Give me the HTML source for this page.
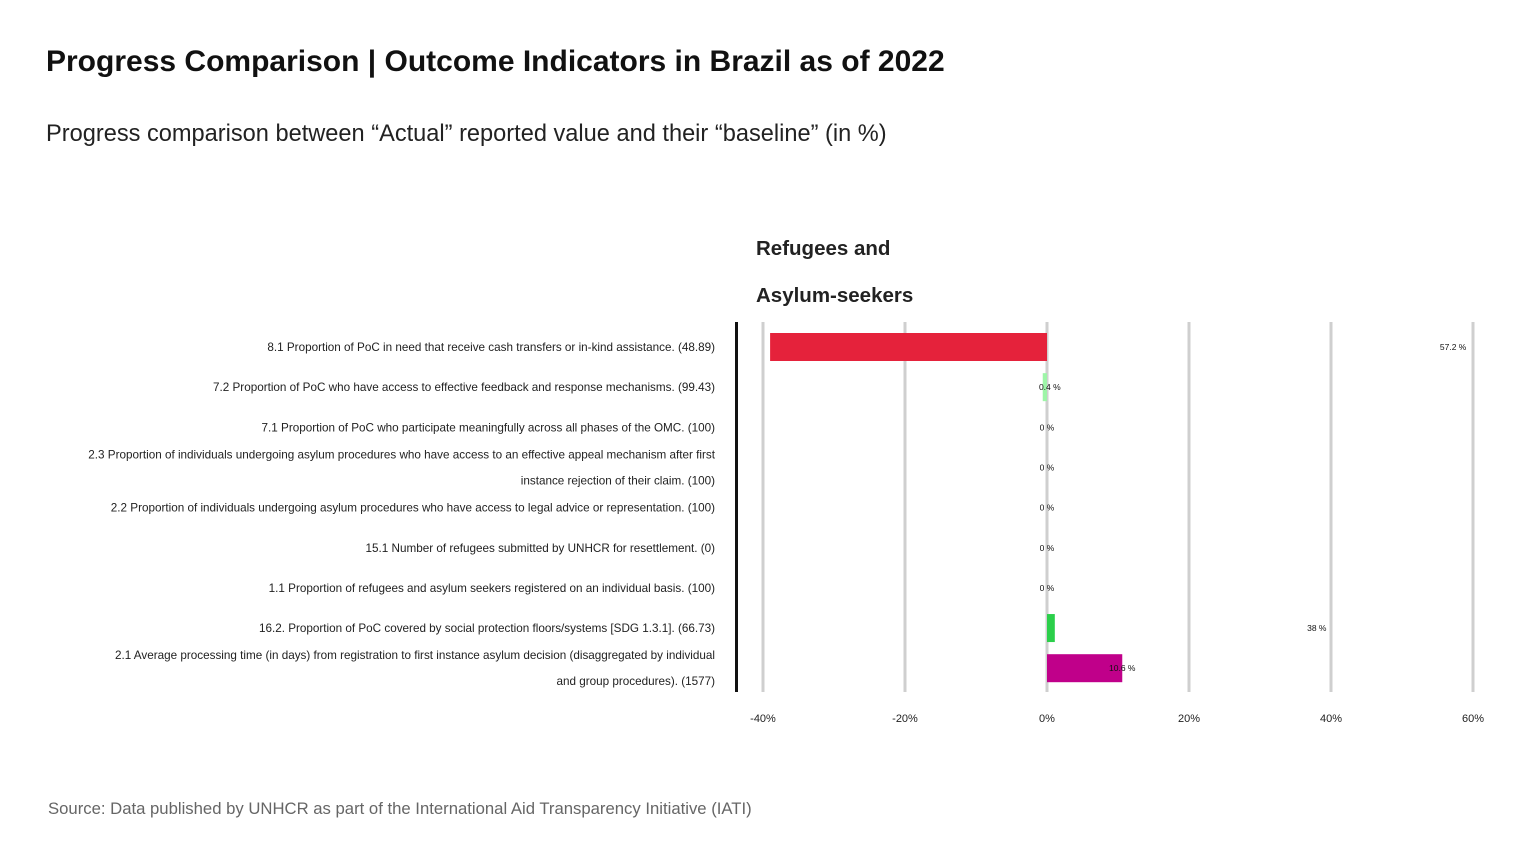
<!DOCTYPE html>
<html><head><meta charset="utf-8"><style>
body{margin:0;background:#fff;font-family:"Liberation Sans",sans-serif;}
svg{display:block}
</style></head><body>
<svg width="1536" height="865">
<text x="46" y="71" font-size="30" font-weight="bold" fill="#111">Progress Comparison | Outcome Indicators in Brazil as of 2022</text>
<text x="46" y="141" font-size="23.6" fill="#222">Progress comparison between “Actual” reported value and their “baseline” (in %)</text>
<text x="756" y="255" font-size="20.5" font-weight="bold" fill="#222">Refugees and</text>
<text x="756" y="302" font-size="20.5" font-weight="bold" fill="#222">Asylum-seekers</text>
<g id="grid"></g><g id="bars"></g><g id="labels"></g><g id="vals"></g><g id="ticks"></g>
<rect x="735" y="322" width="3" height="370" fill="#111"/>
<text x="48" y="814" font-size="16.7" fill="#666">Source: Data published by UNHCR as part of the International Aid Transparency Initiative (IATI)</text>
</svg>
<script>
const categories=[
["8.1 Proportion of PoC in need that receive cash transfers or in-kind assistance. (48.89)"],
["7.2 Proportion of PoC who have access to effective feedback and response mechanisms. (99.43)"],
["7.1 Proportion of PoC who participate meaningfully across all phases of the OMC. (100)"],
["2.3 Proportion of individuals undergoing asylum procedures who have access to an effective appeal mechanism after first","instance rejection of their claim. (100)"],
["2.2 Proportion of individuals undergoing asylum procedures who have access to legal advice or representation. (100)"],
["15.1 Number of refugees submitted by UNHCR for resettlement. (0)"],
["1.1 Proportion of refugees and asylum seekers registered on an individual basis. (100)"],
["16.2. Proportion of PoC covered by social protection floors/systems [SDG 1.3.1]. (66.73)"],
["2.1 Average processing time (in days) from registration to first instance asylum decision (disaggregated by individual","and group procedures). (1577)"]];
const barValues=[-39,-0.6,0,0,0,0,0,1.1,10.6];
const labelValues=[57.2,0.4,0,0,0,0,0,38,10.6];
const barColors=["#e5223b","#9ef5a8","#ccc","#ccc","#ccc","#ccc","#ccc","#2bcf4a","#c0008a"];
const tickValues=[-40,-20,0,20,40,60];
const NS="http://www.w3.org/2000/svg";
const x=v=>1047+v*7.1;
const y=i=>347+i*40.15;
function mk(p,t,a){const e=document.createElementNS(NS,t);for(const k in a)e.setAttribute(k,a[k]);document.getElementById(p).appendChild(e);return e;}
tickValues.forEach(t=>{
 const g=mk("grid","rect",{x:x(t)-1.5,y:322,width:3,height:370,fill:"#cfcfcf"});
 
 
 const l=mk("ticks","text",{x:x(t),y:722,"font-size":11,"text-anchor":"middle",fill:"#222"});
 l.textContent=t+"%";
 
 
});
categories.forEach((c,i)=>{
 const v=barValues[i];
 if(v!==0){const b=mk("bars","rect",{x:Math.min(x(0),x(v)),y:y(i)-14,width:Math.abs(x(v)-x(0)),height:28,fill:barColors[i]});
 
 }
 const lines=c;
 lines.forEach((ln,j)=>{
  const t=mk("labels","text",{x:715,y:(lines.length>1?y(i)-9+j*26:y(i)+4),"font-size":11.7,"text-anchor":"end",fill:"#222"});
  t.textContent=ln;
  
  
 });
 const vt=mk("vals","text",{x:x(labelValues[i]),y:y(i)+3,"font-size":8.5,"text-anchor":"middle",fill:"#111"});
 vt.textContent=labelValues[i]+" %";
 
 
});
</script>
</body></html>
